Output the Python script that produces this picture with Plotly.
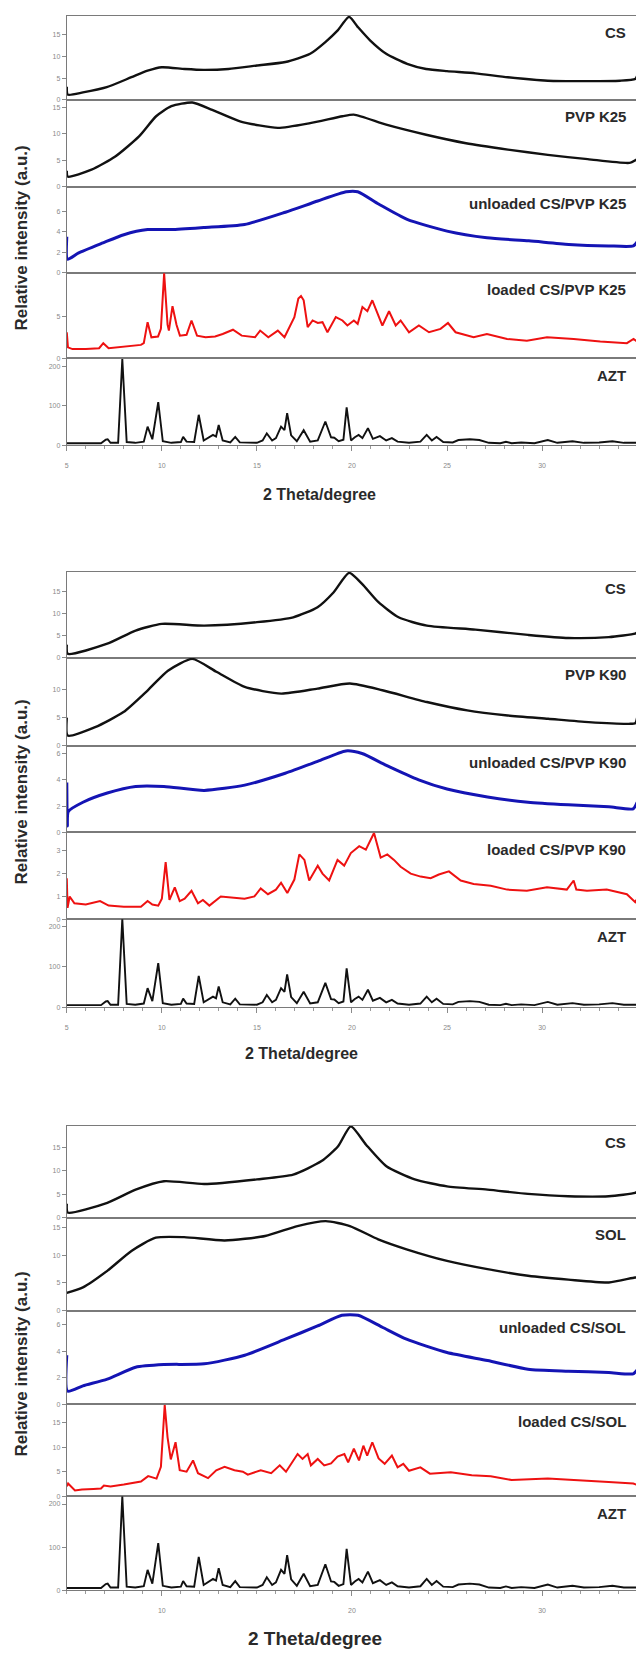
import plotly.graph_objects as go

# ---------------- data (2 theta in degrees, intensity a.u.) ----------------
# AZT (same reference pattern in all three panels)
azt_x = [5.0, 6.8, 7.05, 7.15, 7.3, 7.7, 7.92, 8.15, 8.6, 9.05, 9.25, 9.5, 9.81, 10.05, 10.5, 11.0, 11.12, 11.3,
         11.7, 11.94, 12.2, 12.5, 12.69, 12.85, 12.99, 13.2, 13.6, 13.86, 14.1, 15.0, 15.3, 15.52, 15.8, 16.0,
         16.27, 16.45, 16.59, 16.8, 17.1, 17.46, 17.8, 18.2, 18.6, 18.9, 19.07, 19.3, 19.55, 19.72, 19.95, 20.15,
         20.35, 20.55, 20.84, 21.1, 21.47, 21.8, 22.1, 22.4, 23.0, 23.6, 23.93, 24.2, 24.45, 24.8, 25.3, 25.6,
         26.2, 26.7, 27.2, 27.8, 28.1, 28.4, 28.9, 29.6, 30.3, 30.8, 31.6, 32.2, 33.0, 33.7, 34.3, 35.0]
azt_y = [5, 5, 14, 15, 6, 6, 218, 8, 6, 9, 47, 15, 109, 10, 6, 8, 21, 9,
         8, 77, 12, 20, 26, 22, 51, 12, 7, 21, 7, 6, 12, 30, 12, 18,
         47, 38, 81, 25, 10, 38, 9, 12, 60, 20, 19, 10, 14, 96, 12, 20,
         26, 18, 43, 16, 23, 12, 18, 9, 6, 9, 26, 12, 21, 8, 7, 13,
         15, 13, 6, 5, 8.5, 5, 7, 5, 13, 6, 10, 6, 7, 10, 6, 6]

# Panel 1 : CS / PVP K25
cs1_x = [5.0, 5.05, 5.85, 7.1, 8.4, 9.25, 10.0, 11.2, 12.2, 13.5, 15.0, 16.5, 17.8, 18.6, 19.25, 19.85, 20.3,
         20.95, 21.8, 22.9, 23.9, 25.0, 26.5, 28.2, 30.3, 32.4, 34.1, 34.9, 35.0]
cs1_y = [3.0, 1.2, 1.7, 2.9, 5.2, 6.7, 7.5, 7.1, 6.9, 7.1, 7.9, 8.7, 10.6, 13.3, 16.0, 19.1, 16.8,
         13.7, 10.6, 8.3, 7.1, 6.6, 6.1, 5.2, 4.4, 4.3, 4.4, 4.8, 5.5]
pvp25_x = [5.0, 5.05, 6.3, 7.55, 8.8, 9.7, 10.5, 11.6, 12.65, 14.15, 16.1, 17.8, 19.5, 20.1, 21.8, 23.9, 26.0,
           28.2, 30.3, 32.4, 34.6, 35.0]
pvp25_y = [3.0, 1.9, 3.2, 5.7, 9.5, 13.3, 15.2, 15.9, 14.5, 12.3, 11.1, 12.0, 13.3, 13.6, 11.7, 9.8, 8.2,
           7.0, 6.0, 5.2, 4.5, 5.2]
unl25_x = [5.0, 5.04, 5.6, 6.9, 8.0, 9.25, 10.5, 12.2, 14.35, 16.5, 18.2, 19.7, 20.3, 21.4, 22.9, 25.0, 27.1,
           29.3, 31.4, 33.5, 34.8, 35.0]
unl25_y = [3.5, 1.3, 1.9, 2.9, 3.7, 4.2, 4.2, 4.4, 4.7, 5.9, 7.0, 7.9, 7.9, 6.7, 5.2, 4.05, 3.4,
           3.1, 2.75, 2.6, 2.6, 3.0]
ld25_x = [5.0, 5.06, 5.3, 6.0, 6.7, 6.92, 7.2, 8.0, 8.9, 9.05, 9.25, 9.45, 9.8, 9.95, 10.12, 10.3, 10.37, 10.56,
          10.77, 10.95, 11.3, 11.56, 11.85, 12.3, 12.8, 13.2, 13.74, 14.2, 14.9, 15.17, 15.6, 16.1, 16.45,
          16.97, 17.18, 17.32, 17.46, 17.67, 17.93, 18.2, 18.45, 18.71, 19.15, 19.5, 19.76, 20.1, 20.3, 20.55,
          20.81, 21.07, 21.34, 21.6, 21.95, 22.3, 22.56, 23.0, 23.52, 24.05, 24.66, 25.05, 25.45, 26.4, 27.1,
          28.16, 29.2, 30.26, 31.66, 33.06, 34.46, 34.81, 35.0]
ld25_y = [3.1, 1.3, 1.1, 1.1, 1.2, 1.8, 1.2, 1.4, 1.6, 1.8, 4.3, 2.5, 2.6, 3.5, 10.1, 4.0, 3.3, 6.2,
          4.0, 2.7, 2.8, 4.5, 2.7, 2.5, 2.6, 2.9, 3.4, 2.7, 2.5, 3.3, 2.5, 3.3, 2.5,
          4.9, 7.1, 7.4, 6.9, 3.7, 4.5, 4.2, 4.3, 3.1, 4.9, 4.5, 3.9, 4.5, 4.1, 6.1,
          5.6, 6.9, 5.3, 3.9, 5.6, 3.9, 4.5, 3.1, 3.9, 3.1, 3.5, 4.2, 3.1, 2.5, 2.9,
          2.3, 2.1, 2.5, 2.3, 2.0, 1.8, 2.3, 2.0]

# Panel 2 : CS / PVP K90
cs2_x = [5.0, 5.05, 7.13, 8.62, 10.0, 12.23, 15.0, 16.91, 18.19, 19.04, 19.85, 20.53, 21.38, 22.45, 23.94,
         26.49, 29.26, 31.38, 33.51, 34.89, 35.0]
cs2_y = [3.0, 0.9, 3.2, 6.2, 7.7, 7.3, 8.1, 9.2, 11.5, 14.9, 19.3, 16.8, 12.7, 9.2, 7.3,
         6.4, 5.2, 4.5, 4.7, 5.5, 5.8]
pvp90_x = [5.0, 5.05, 6.49, 7.98, 9.26, 10.32, 11.6, 12.87, 14.36, 16.28, 18.19, 19.89, 21.6, 23.94, 26.06,
           28.19, 30.32, 32.45, 34.57, 34.9, 35.0]
pvp90_y = [5.0, 1.8, 3.3, 6.0, 9.9, 13.4, 15.5, 13.2, 10.5, 9.3, 10.2, 11.1, 9.9, 7.8, 6.3,
           5.4, 4.8, 4.2, 3.9, 4.0, 5.0]
unl90_x = [5.0, 5.03, 5.08, 5.85, 7.13, 8.62, 10.11, 12.23, 14.36, 16.49, 18.19, 19.68, 20.53, 21.81, 23.51,
           25.0, 27.13, 29.26, 31.38, 33.51, 34.79, 35.0]
unl90_y = [3.8, 0.5, 1.6, 2.3, 3.0, 3.5, 3.5, 3.2, 3.6, 4.5, 5.4, 6.2, 6.0, 5.1, 4.0,
           3.3, 2.7, 2.3, 2.1, 1.95, 1.8, 2.3]
ld90_x = [5.0, 5.04, 5.15, 5.4, 6.0, 6.75, 7.2, 8.0, 8.9, 9.25, 9.5, 9.81, 10.0, 10.2, 10.4, 10.68, 10.94, 11.2,
          11.56, 11.9, 12.16, 12.5, 13.1, 13.65, 14.35, 14.87, 15.2, 15.58, 16.0, 16.27, 16.6, 16.97, 17.23,
          17.5, 17.75, 18.2, 18.45, 18.8, 19.24, 19.59, 19.94, 20.38, 20.73, 21.16, 21.51, 21.86, 22.21, 22.56,
          23.09, 23.61, 24.14, 24.57, 25.1, 25.72, 26.4, 27.3, 28.16, 29.2, 30.26, 31.3, 31.66, 31.8, 32.36,
          33.4, 34.46, 34.9, 35.0]
ld90_y = [1.8, 0.5, 1.0, 0.7, 0.65, 0.8, 0.6, 0.55, 0.55, 0.8, 0.65, 0.6, 0.9, 2.5, 0.85, 1.4, 0.8, 0.9,
          1.25, 0.7, 0.85, 0.6, 1.0, 0.95, 0.9, 1.0, 1.35, 1.1, 1.3, 1.6, 1.15, 1.74, 2.84,
          2.6, 1.7, 2.35, 2.0, 1.7, 2.6, 2.35, 2.9, 3.2, 3.05, 3.78, 2.7, 2.84, 2.6, 2.3,
          2.0, 1.87, 1.8, 1.96, 2.1, 1.7, 1.55, 1.47, 1.3, 1.25, 1.4, 1.3, 1.7, 1.3, 1.25,
          1.3, 1.1, 0.75, 0.9]

# Panel 3 : CS / SOL
cs3_x = [5.0, 5.05, 7.13, 8.62, 10.11, 12.23, 15.0, 16.91, 18.4, 19.26, 19.94, 20.74, 21.81, 23.3, 25.0,
         27.13, 29.26, 31.38, 33.51, 34.89, 35.0]
cs3_y = [3.0, 1.1, 3.2, 6.0, 7.8, 7.2, 8.2, 9.2, 12.1, 15.2, 19.5, 15.6, 11.0, 8.2, 6.7,
         6.0, 5.1, 4.6, 4.6, 5.3, 5.6]
sol_x = [5.0, 5.85, 7.13, 8.4, 9.68, 11.17, 13.3, 15.43, 17.13, 18.62, 19.89, 21.38, 22.87, 25.0, 27.13,
         29.26, 31.38, 33.51, 34.89, 35.0]
sol_y = [3.2, 4.2, 7.2, 10.8, 13.2, 13.3, 12.7, 13.5, 15.3, 16.2, 15.3, 12.9, 11.1, 9.0, 7.5,
         6.3, 5.6, 5.1, 6.0, 6.0]
unlsol_x = [5.0, 5.04, 5.85, 7.13, 8.62, 10.11, 12.23, 14.36, 16.49, 18.19, 19.47, 20.32, 21.6, 22.87, 25.0,
            27.13, 29.26, 31.38, 33.51, 34.79, 35.0]
unlsol_y = [3.7, 1.0, 1.4, 1.9, 2.8, 3.0, 3.05, 3.7, 4.9, 5.9, 6.7, 6.7, 5.8, 4.9, 3.9,
            3.3, 2.65, 2.5, 2.4, 2.3, 2.6]
ldsol_x = [5.0, 5.07, 5.43, 5.8, 6.4, 6.8, 6.95, 7.3, 8.0, 8.9, 9.28, 9.72, 9.95, 10.15, 10.3, 10.47, 10.72,
           10.94, 11.3, 11.64, 11.9, 12.43, 12.86, 13.3, 13.82, 14.26, 14.52, 15.2, 15.75, 16.2, 16.53, 17.14,
           17.4, 17.67, 17.84, 18.2, 18.54, 18.9, 19.24, 19.6, 19.8, 20.1, 20.37, 20.6, 20.8, 21.07, 21.4,
           21.72, 22.1, 22.4, 22.7, 23.0, 23.6, 24.1, 25.2, 26.3, 27.3, 28.4, 30.3, 32.0, 33.5, 34.8, 35.0]
ldsol_y = [2.0, 2.6, 1.2, 1.4, 1.5, 1.6, 2.2, 2.0, 2.4, 3.0, 4.1, 3.6, 6.0, 18.6, 12.0, 7.5, 11.0,
           5.3, 5.0, 7.3, 4.7, 3.7, 5.3, 6.0, 5.3, 5.0, 4.4, 5.3, 4.7, 6.3, 5.0, 8.6,
           7.6, 8.6, 6.3, 7.6, 6.3, 6.7, 8.1, 8.6, 6.9, 9.7, 7.3, 10.3, 8.3, 11.0, 7.7,
           6.6, 8.3, 5.9, 6.6, 5.2, 5.9, 4.6, 4.9, 4.3, 4.1, 3.3, 3.6, 3.3, 2.9, 2.6, 2.3]

labels1 = ["CS", "PVP K25", "unloaded CS/PVP K25", "loaded CS/PVP K25", "AZT"]
labels2 = ["CS", "PVP K90", "unloaded CS/PVP K90", "loaded CS/PVP K90", "AZT"]
labels3 = ["CS", "SOL", "unloaded CS/SOL", "loaded CS/SOL", "AZT"]

x_ticks12 = [5, 10, 15, 20, 25, 30]
x_ticks3 = [10, 20, 30]
x_title = "2 Theta/degree"
y_title = "Relative intensity (a.u.)"

# ---------------- styling / layout ----------------
W, H = 636, 1654
X0 = 65
BLACK, BLUE, RED = "#111111", "#1414b4", "#ee1111"


def py(px):
    return 1 - px / H


panels = [
    dict(tops=[16, 100, 187, 273, 359], bottom=446, xticks=x_ticks12, title_y=495, title_x=318, title_size=16,
         ytitle_y=238,
         series=[(labels1[0], cs1_x, cs1_y, BLACK, [0, 19.3], [0, 5, 10, 15], 2.4, "spline"),
                 (labels1[1], pvp25_x, pvp25_y, BLACK, [0, 16.4], [0, 5, 10, 15], 2.4, "spline"),
                 (labels1[2], unl25_x, unl25_y, BLUE, [0, 8.4], [0, 2, 4, 6], 3.0, "spline"),
                 (labels1[3], ld25_x, ld25_y, RED, [0, 10.2], [0, 5], 2.0, "linear"),
                 (labels1[4], azt_x, azt_y, BLACK, [0, 220], [0, 100, 200], 1.9, "linear")]),
    dict(tops=[573, 659, 747, 834, 921], bottom=1009, xticks=x_ticks12, title_y=1055, title_x=300, title_size=16,
         ytitle_y=793,
         series=[(labels2[0], cs2_x, cs2_y, BLACK, [0, 19.5], [0, 5, 10, 15], 2.4, "spline"),
                 (labels2[1], pvp90_x, pvp90_y, BLACK, [0, 15.7], [0, 5, 10], 2.4, "spline"),
                 (labels2[2], unl90_x, unl90_y, BLUE, [0, 6.6], [0, 2, 4, 6], 3.0, "spline"),
                 (labels2[3], ld90_x, ld90_y, RED, [0, 3.8], [0, 1, 2, 3], 2.0, "linear"),
                 (labels2[4], azt_x, azt_y, BLACK, [0, 217], [0, 100, 200], 1.9, "linear")]),
    dict(tops=[1128, 1220, 1313, 1407, 1499], bottom=1593, xticks=x_ticks3, title_y=1641, title_x=314, title_size=19,
         ytitle_y=1366,
         series=[(labels3[0], cs3_x, cs3_y, BLACK, [0, 19.6], [0, 5, 10, 15], 2.4, "spline"),
                 (labels3[1], sol_x, sol_y, BLACK, [0, 16.8], [0, 5, 10, 15], 2.4, "spline"),
                 (labels3[2], unlsol_x, unlsol_y, BLUE, [0, 7.05], [0, 2, 4, 6], 3.0, "spline"),
                 (labels3[3], ldsol_x, ldsol_y, RED, [0, 18.7], [0, 5, 10, 15], 2.0, "linear"),
                 (labels3[4], azt_x, azt_y, BLACK, [0, 218], [0, 100, 200], 1.9, "linear")]),
]

fig = go.Figure()
layout = {}
annotations = []
idx = 0
TICK_FONT = dict(family="Liberation Sans", size=7, color="#8a8a8a")
LABEL_FONT = dict(family="Liberation Sans", size=15, color="#2a2a2a", weight="bold")

for p in panels:
    for i, (label, xs, ys, color, yr, ytv, lw, shape) in enumerate(p["series"]):
        idx += 1
        assert len(xs) == len(ys), (label, len(xs), len(ys))
        top = p["tops"][i]
        bot = p["tops"][i + 1] if i < 4 else p["bottom"]
        is_bottom = i == 4
        xname = "x" if idx == 1 else f"x{idx}"
        yname = "y" if idx == 1 else f"y{idx}"
        fig.add_trace(go.Scatter(x=xs, y=ys, mode="lines",
                                 line=dict(color=color, width=lw, shape=shape, smoothing=0.6 if shape == "spline" else None),
                                 xaxis=xname, yaxis=yname, showlegend=False, hoverinfo="skip"))
        xa = dict(domain=[X0 / W, 1], range=[5, 34.94], anchor=yname, showline=True, mirror=True,
                  linecolor="#7a7a7a", linewidth=1, showgrid=False, zeroline=False, fixedrange=True)
        if is_bottom:
            xa.update(tickmode="array", tickvals=p["xticks"], ticks="outside", ticklen=5, tickcolor="#8a8a8a",
                      tickfont=TICK_FONT, ticklabelstandoff=8,
                      minor=dict(ticks="outside", dtick=1, tick0=5, ticklen=3, tickcolor="#9a9a9a", showgrid=False))
        else:
            xa.update(showticklabels=False, ticks="")
        ya = dict(domain=[py(bot), py(top)], range=yr, anchor=xname, showline=True, linecolor="#7a7a7a",
                  linewidth=1, showgrid=False, zeroline=False, tickmode="array", tickvals=ytv, ticks="outside",
                  ticklen=4, tickcolor="#8a8a8a", tickfont=TICK_FONT, fixedrange=True)
        layout["xaxis" if idx == 1 else f"xaxis{idx}"] = xa
        layout["yaxis" if idx == 1 else f"yaxis{idx}"] = ya
        annotations.append(dict(text=label, xref="paper", yref="paper", x=628 / W, y=py(top + 17),
                                xanchor="right", yanchor="middle", showarrow=False, font=LABEL_FONT))
    annotations.append(dict(text=x_title, xref="paper", yref="paper", x=p["title_x"] / W, y=py(p["title_y"]),
                            xanchor="center", yanchor="middle", showarrow=False,
                            font=dict(family="Liberation Sans", size=p["title_size"], color="#2a2a2a", weight="bold")))
    annotations.append(dict(text=y_title, xref="paper", yref="paper", x=20 / W, y=py(p["ytitle_y"]),
                            xanchor="center", yanchor="middle", showarrow=False, textangle=-90,
                            font=dict(family="Liberation Sans", size=17, color="#2a2a2a", weight="bold")))

fig.update_layout(**layout)
fig.update_layout(width=W, height=H, margin=dict(l=0, r=0, t=0, b=0), autosize=False,
                  paper_bgcolor="white", plot_bgcolor="white", annotations=annotations)
fig.write_html("out.html", config={"displayModeBar": False})
